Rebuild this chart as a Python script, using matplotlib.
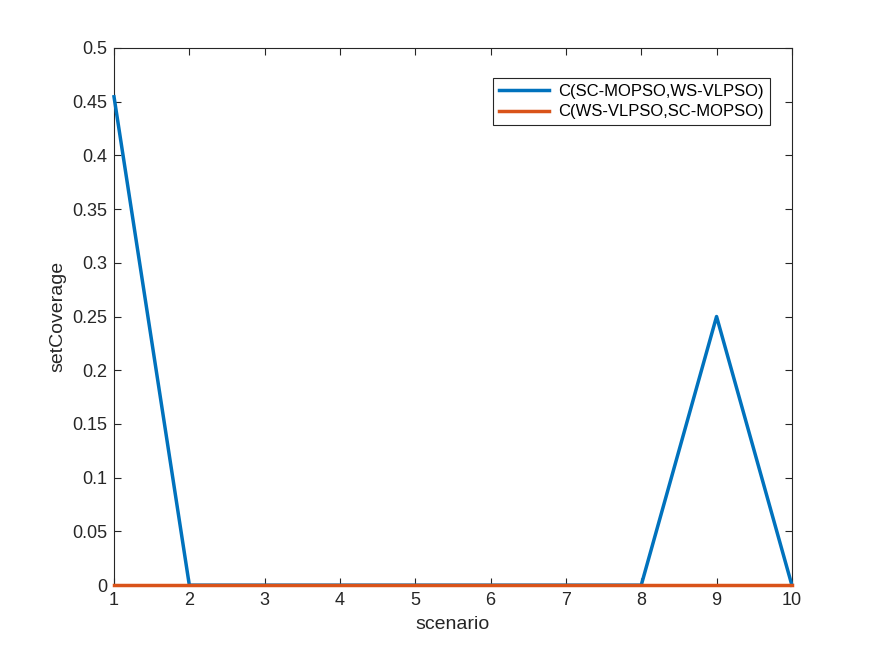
import matplotlib
matplotlib.use("Agg")
import matplotlib.pyplot as plt

scenario = [1, 2, 3, 4, 5, 6, 7, 8, 9, 10]
c_sc_ws = [0.4545, 0, 0, 0, 0, 0, 0, 0, 0.25, 0]
c_ws_sc = [0, 0, 0, 0, 0, 0, 0, 0, 0, 0]
labels = ["C(SC-MOPSO,WS-VLPSO)", "C(WS-VLPSO,SC-MOPSO)"]

plt.rcParams['font.family'] = ['Liberation Sans', 'DejaVu Sans']
fig = plt.figure(figsize=(8.75, 6.56), dpi=100)
ax = fig.add_axes([0.1303, 0.108, 0.7747, 0.819])
ax.plot(scenario, c_sc_ws, color='#0072BD', lw=2.5, label=labels[0], clip_on=False, zorder=3)
ax.plot(scenario, c_ws_sc, color='#D95319', lw=2.5, label=labels[1], clip_on=False, zorder=4)
ax.set_xlim(1, 10)
ax.set_ylim(0, 0.5)
ax.set_xticks(range(1, 11))
ax.set_yticks([i * 0.05 for i in range(11)])
ax.set_yticklabels(['0', '0.05', '0.1', '0.15', '0.2', '0.25', '0.3', '0.35', '0.4', '0.45', '0.5'])
ax.tick_params(direction='in', labelsize=13, colors='#262626', top=True, right=True, length=5, pad=5)
for s in ax.spines.values():
    s.set_color('#262626'); s.set_linewidth(0.8)
ax.set_xlabel('scenario', fontsize=14, color='#262626', labelpad=5)
ax.set_ylabel('setCoverage', fontsize=14, color='#262626')
leg = ax.legend(loc='upper right', bbox_to_anchor=(0.98, 0.96), fontsize=12, fancybox=False,
                edgecolor='#262626', framealpha=1, handlelength=3.0, borderpad=0.35, labelspacing=0.35,
                handletextpad=0.6)
leg.get_frame().set_linewidth(0.8)
fig.savefig('out.png')
